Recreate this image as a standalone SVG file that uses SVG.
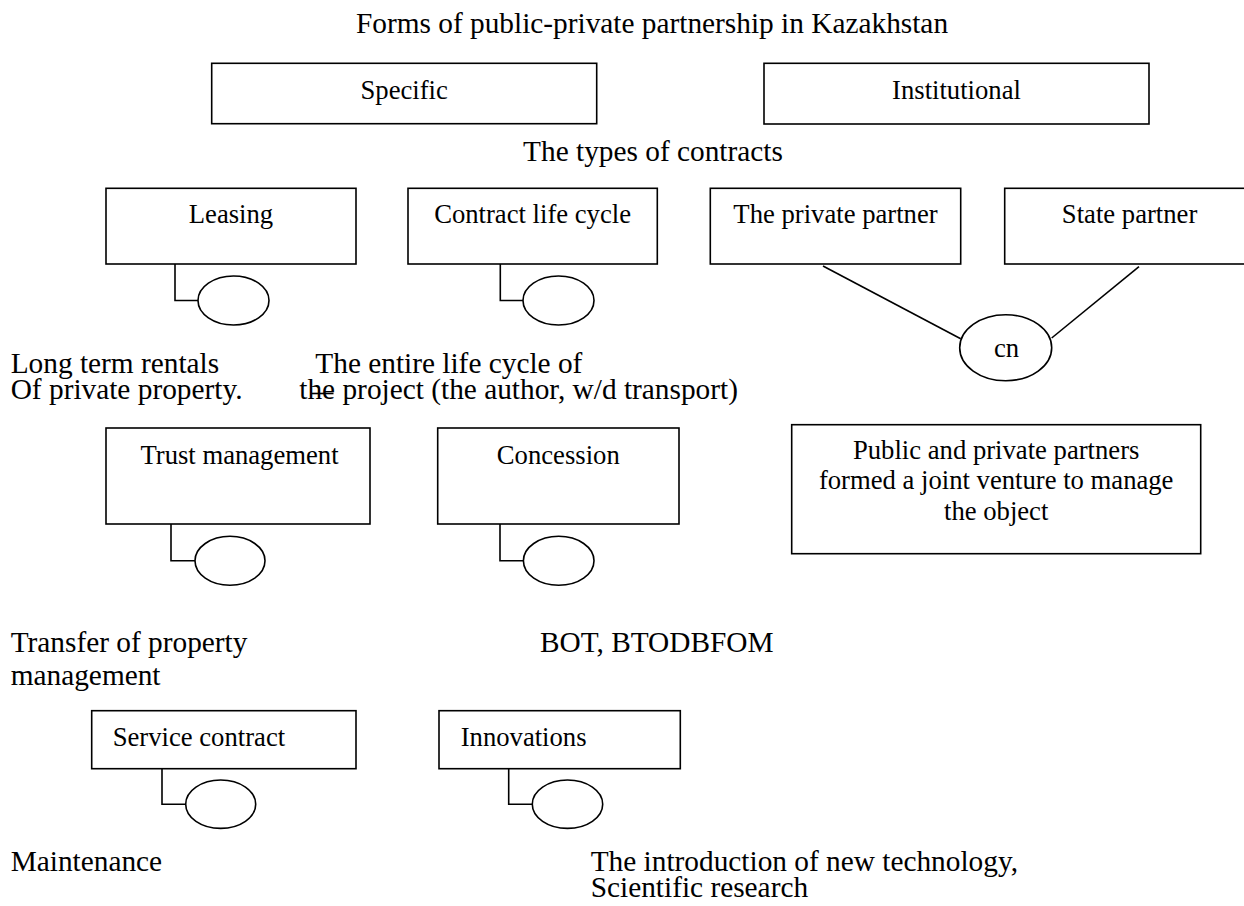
<svg xmlns="http://www.w3.org/2000/svg" width="1244" height="906" viewBox="0 0 1244 906">
<style>
.box{fill:#fff;stroke:#000;stroke-width:1.6}
.ell{fill:#fff;stroke:#000;stroke-width:1.6}
.ln{fill:none;stroke:#000;stroke-width:1.6}
.bt{font-family:"Liberation Serif","Times New Roman",serif;font-size:26.67px;fill:#000}
.ft{font-family:"Liberation Serif","Times New Roman",serif;font-size:29.33px;fill:#000}
.c{text-anchor:middle}
</style>
<rect width="1244" height="906" fill="#fff"/>
<g id="labels">
<text class="ft c" x="652" y="33">Forms of public-private partnership in Kazakhstan</text>
<text class="ft c" x="653" y="160.5">The types of contracts</text>
<text class="ft"><tspan x="10.7" y="372.7">Long term rentals</tspan><tspan x="10.7" y="398.7">Of private property.</tspan></text>
<text class="ft"><tspan x="315.3" y="372.7">The entire life cycle of</tspan><tspan x="299.3" y="398.7">the project (the author, w/d transport)</tspan></text>
<line class="ln" x1="311.5" y1="393.5" x2="333.5" y2="393.5"/>
<text class="ft"><tspan x="10.7" y="651.7">Transfer of property</tspan><tspan x="10.7" y="685">management</tspan></text>
<text class="ft" x="540" y="652.3">BOT, BTODBFOM</text>
<text class="ft" x="10.7" y="870.7">Maintenance</text>
<text class="ft"><tspan x="590.7" y="870.7">The introduction of new technology,</tspan><tspan x="590.7" y="897.3">Scientific research</tspan></text>
</g>
<g id="connectors">
<polyline class="ln" points="175,264 175,300.5 198,300.5"/>
<polyline class="ln" points="500.3,264 500.3,300.5 523,300.5"/>
<polyline class="ln" points="171,524 171,560.8 195,560.8"/>
<polyline class="ln" points="500,524 500,560.8 523.5,560.8"/>
<polyline class="ln" points="162,768.7 162,804.2 185.7,804.2"/>
<polyline class="ln" points="508.7,768.7 508.7,804.2 532.3,804.2"/>
<line class="ln" x1="823" y1="266" x2="960.7" y2="338.7"/>
<line class="ln" x1="1139" y1="266.7" x2="1051.7" y2="338"/>
</g>
<g id="specific"><rect class="box" x="211.7" y="63.3" width="385" height="60.4"/><text class="bt c" x="404.2" y="98.5">Specific</text></g>
<g id="institutional"><rect class="box" x="764" y="63.3" width="385" height="60.7"/><text class="bt c" x="956.5" y="98.5">Institutional</text></g>
<g id="leasing"><rect class="box" x="106" y="188.3" width="250" height="75.7"/><text class="bt c" x="231" y="223">Leasing</text></g>
<g id="leasing-circle"><ellipse class="ell" cx="233.5" cy="300.5" rx="35.5" ry="24.5"/></g>
<g id="contract-life-cycle"><rect class="box" x="408" y="188.3" width="249.3" height="75.7"/><text class="bt c" x="532.6" y="223">Contract life cycle</text></g>
<g id="contract-circle"><ellipse class="ell" cx="558.5" cy="300.5" rx="35.5" ry="24.5"/></g>
<g id="private-partner"><rect class="box" x="710.3" y="188.3" width="250.4" height="75.7"/><text class="bt c" x="835.5" y="223">The private partner</text></g>
<g id="state-partner"><rect class="box" x="1004.7" y="188.3" width="250" height="75.7"/><text class="bt c" x="1129.6" y="223">State partner</text></g>
<g id="cn"><ellipse class="ell" cx="1005.7" cy="347.7" rx="46" ry="33"/><text class="bt c" x="1006.5" y="357">cn</text></g>
<g id="trust-management"><rect class="box" x="106" y="428" width="264" height="96"/><text class="bt c" x="239.5" y="464.3">Trust management</text></g>
<g id="trust-circle"><ellipse class="ell" cx="230" cy="560.8" rx="35" ry="24.5"/></g>
<g id="concession"><rect class="box" x="437.7" y="428" width="241.3" height="96"/><text class="bt c" x="558.3" y="464.3">Concession</text></g>
<g id="concession-circle"><ellipse class="ell" cx="558.7" cy="560.8" rx="35.3" ry="24.5"/></g>
<g id="joint-venture"><rect class="box" x="791.7" y="424.7" width="409" height="129"/>
<text class="bt c"><tspan x="996.2" y="458.7">Public and private partners</tspan><tspan x="996.2" y="488.9">formed a joint venture to manage</tspan><tspan x="996.2" y="520">the object</tspan></text></g>
<g id="service-contract"><rect class="box" x="91.7" y="710.7" width="264.3" height="58"/><text class="bt" x="112.7" y="745.7">Service contract</text></g>
<g id="service-circle"><ellipse class="ell" cx="220.7" cy="804.2" rx="35" ry="24.2"/></g>
<g id="innovations"><rect class="box" x="439" y="710.7" width="241.3" height="58"/><text class="bt" x="460.7" y="745.7">Innovations</text></g>
<g id="innovations-circle"><ellipse class="ell" cx="567.5" cy="804.2" rx="35.2" ry="24.2"/></g>
</svg>
